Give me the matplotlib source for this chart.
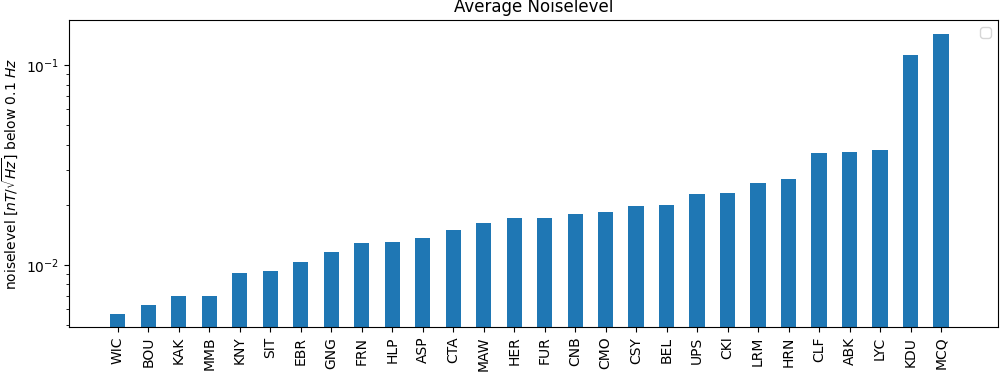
import matplotlib
matplotlib.use('Agg')
import matplotlib.pyplot as plt
import numpy as np

stations = ['WIC', 'BOU', 'KAK', 'MMB', 'KNY', 'SIT', 'EBR', 'GNG', 'FRN', 'HLP',
            'ASP', 'CTA', 'MAW', 'HER', 'FUR', 'CNB', 'CMO', 'CSY', 'BEL', 'UPS',
            'CKI', 'LRM', 'HRN', 'CLF', 'ABK', 'LYC', 'KDU', 'MCQ']
noise = [0.00569, 0.0063, 0.0070, 0.0070, 0.0091, 0.0093, 0.01035, 0.0116, 0.0129, 0.0130,
         0.0137, 0.0150, 0.0162, 0.0172, 0.0172, 0.0180, 0.0184, 0.0197, 0.0200, 0.0226,
         0.0229, 0.0257, 0.0269, 0.0363, 0.0367, 0.0376, 0.112, 0.143]

fig, ax = plt.subplots(figsize=(10.01, 3.72), dpi=100)
fig.subplots_adjust(left=0.069, right=0.997, top=0.946, bottom=0.121)

x = np.arange(len(stations))
ax.bar(x, noise, width=0.5, color='#1f77b4')
ax.set_yscale('log')
ax.set_xticks(x)
ax.set_xticklabels(stations, rotation=90)
ax.set_xlim(-1.6, 28.87)
ax.set_ylim(0.0049, 0.168)
ax.set_title('Average Noiselevel')
ax.set_ylabel(r'noiselevel [$nT/\sqrt{Hz}$] below 0.1 $Hz$')
ax.legend()  # empty legend box as in the original

fig.savefig('out.png', dpi=100)
